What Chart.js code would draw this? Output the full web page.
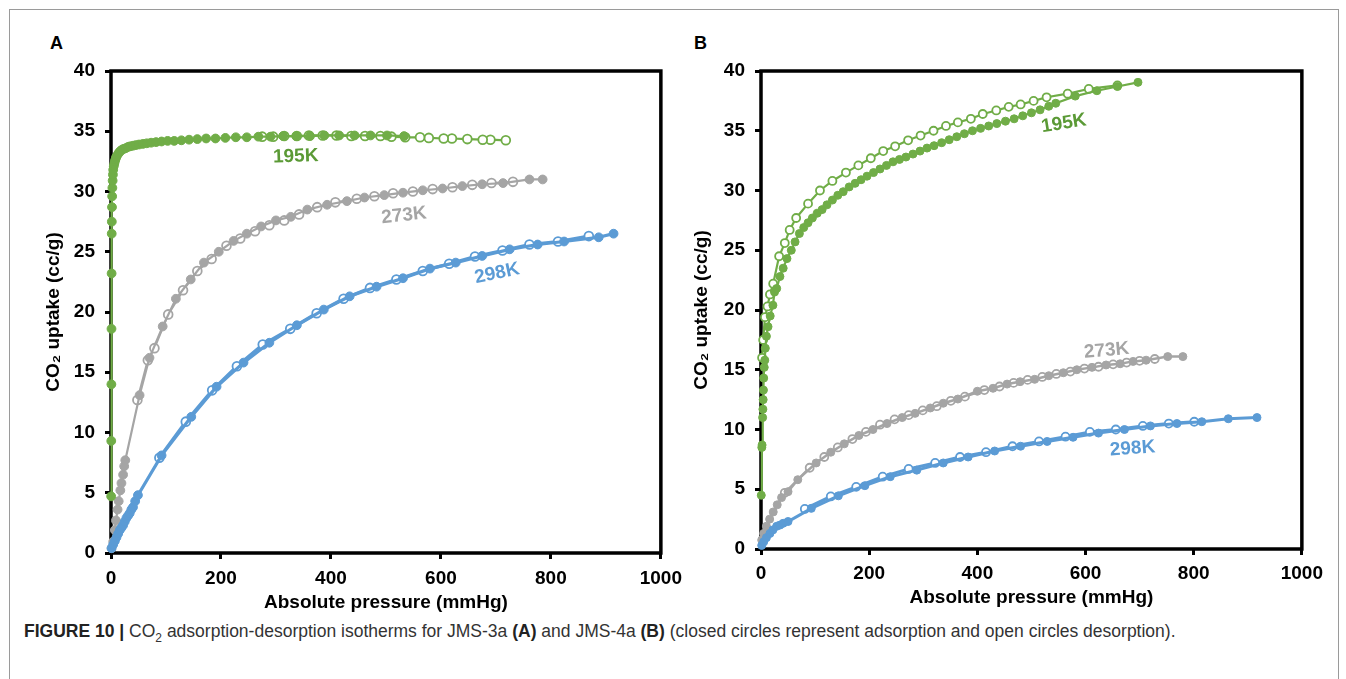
<!DOCTYPE html>
<html>
<head>
<meta charset="utf-8">
<script src="https://cdn.jsdelivr.net/npm/chart.js@4.4.1/dist/chart.umd.min.js"></script>
<style>
  html, body { margin: 0; padding: 0; background: #fff; width: 1346px; height: 679px; overflow: hidden; }
  body { position: relative; font-family: "Liberation Sans", Arial, sans-serif; }
  #frame { position: absolute; left: 9px; top: 9px; width: 1328px; height: 690px; border: 1px solid #9a9a9a; }
  .panel { position: absolute; font-weight: bold; font-size: 18px; color: #000; }
  #wrapA { position: absolute; left: 42px; top: 40px; width: 648px; height: 574px; }
  #wrapB { position: absolute; left: 690px; top: 40px; width: 640px; height: 569px; }
  #caption { position: absolute; left: 24px; top: 621px; font-size: 17.5px; color: #333; white-space: nowrap; }
  #caption b { color: #222; }
</style>
</head>
<body>
<div id="frame"></div>
<div class="panel" style="left:50px; top:33px;">A</div>
<div class="panel" style="left:694px; top:33px;">B</div>
<div id="wrapA"><canvas id="chartA" width="648" height="574"></canvas></div>
<div id="wrapB"><canvas id="chartB" width="640" height="569"></canvas></div>
<div id="caption"><b>FIGURE 10 |</b> CO<sub style="font-size:12px">2</sub> adsorption-desorption isotherms for JMS-3a <b>(A)</b> and JMS-4a <b>(B)</b> (closed circles represent adsorption and open circles desorption).</div>

<script>
// ---------- panel A (JMS-3a) ----------
var a195AdsX = [0.3,0.5,0.7,0.9,1.1,1.3,1.5,1.8,2.1,2.5,3,3.5,4,5,6,7,8,9,10,12,14,16,18,21,24,27,31,35,40,45,51,58,65,73,82,92,103,115,128,142,157,173,190,208,227,247,268,290,313,337,362,388,415,443,472,502,533];
var a195AdsY = [4.7,9.3,14.0,18.6,23.2,26.5,27.5,28.7,29.6,30.3,30.9,31.4,31.8,32.1,32.3,32.5,32.65,32.8,32.9,33.05,33.2,33.3,33.4,33.5,33.55,33.6,33.7,33.75,33.8,33.85,33.9,33.95,34.0,34.05,34.1,34.15,34.2,34.2,34.25,34.3,34.35,34.4,34.4,34.45,34.5,34.5,34.55,34.55,34.6,34.6,34.6,34.65,34.65,34.65,34.65,34.65,34.6];
var a195DesX = [718,690,676,648,620,605,578,562,535,510,490,462,437,410,385,360,338,315,295,275];
var a195DesY = [34.25,34.3,34.3,34.35,34.4,34.4,34.45,34.5,34.5,34.55,34.6,34.6,34.6,34.65,34.65,34.65,34.6,34.6,34.55,34.55];

var a273AdsX = [1,4,7,9,12,14,17,19,22,24,26,52,70,94,118,145,169,196,223,247,273,300,327,357,393,429,461,497,531,567,603,639,675,713,761,785];
var a273AdsY = [0.4,0.94,1.9,2.7,3.6,4.3,5.2,5.8,6.5,7.2,7.7,13.1,16.2,18.8,21.1,22.7,24.1,25.0,25.9,26.5,27.1,27.6,27.9,28.5,28.9,29.2,29.5,29.7,29.9,30.1,30.25,30.45,30.6,30.7,31.0,31.0];
var a273DesX = [731,692,657,621,585,549,513,479,447,408,375,342,315,288,262,235,210,183,157,131,104,79,67,48];
var a273DesY = [30.8,30.7,30.55,30.35,30.2,30.0,29.85,29.6,29.4,29.1,28.7,28.1,27.6,27.2,26.7,26.1,25.5,24.4,23.4,21.8,19.8,17.0,16.0,12.7];

var a298AdsX = [1,4,7,10,13,16,19,22,25,28,31,34,37,40,44,49,92,146,192,241,288,338,387,434,483,531,580,627,675,725,776,824,887,914];
var a298AdsY = [0.4,0.7,1.0,1.3,1.6,1.9,2.1,2.3,2.6,2.9,3.1,3.3,3.6,3.8,4.3,4.8,8.1,11.3,13.8,15.8,17.45,18.9,20.2,21.3,22.1,22.8,23.6,24.1,24.65,25.2,25.6,25.85,26.2,26.5];
var a298DesX = [869,813,761,712,662,615,567,519,471,423,374,326,276,229,184,136,88];
var a298DesY = [26.3,25.85,25.6,25.1,24.6,24.0,23.4,22.7,22.0,21.1,19.9,18.6,17.3,15.5,13.5,10.9,7.9];

// ---------- panel B (JMS-4a) ----------
var b195AdsX = [0.5,1.5,2,3,3.5,4,4.5,5,6,7,8,10,13,17,22,25,29,35,41,48,56,63,71,79,87,95,104,113,122,132,142,152,163,174,185,196,208,220,232,244,256,268,281,294,307,320,334,348,362,376,391,406,421,436,452,468,484,500,516,532,545,581,621,659,697];
var b195AdsY = [4.5,8.5,8.7,11.0,11.7,12.5,13.3,14.3,15.2,15.8,16.8,17.8,18.6,19.5,20.4,21.5,21.8,22.8,23.5,24.3,25.0,25.7,26.4,26.9,27.3,27.7,28.1,28.4,28.8,29.2,29.6,29.9,30.3,30.6,30.9,31.2,31.5,31.8,32.1,32.4,32.6,32.8,33.05,33.3,33.55,33.75,34.0,34.25,34.5,34.75,35.0,35.2,35.4,35.6,35.8,36.0,36.25,36.5,36.75,37.05,37.3,37.9,38.35,38.7,39.05];
var b195DesX = [659,606,567,528,504,480,458,435,410,388,364,342,319,295,272,248,226,203,180,157,132,109,87,65,53,44,33.5,22.5,16.5,12,7.3,4,2];
var b195DesY = [38.8,38.5,38.1,37.8,37.5,37.2,37.0,36.7,36.4,36.0,35.7,35.4,35.0,34.6,34.2,33.7,33.3,32.7,32.1,31.5,30.8,30.0,28.9,27.7,26.7,25.6,24.5,22.2,21.3,20.3,19.4,17.5,16.0];

var b273AdsX = [1.3,5,10,16,22.6,30,38,50,68,102,129,154,181,207,233,261,285,313,337,364,400,429,455,479,506,532,559,584,612,638,664,688,712,752,780];
var b273AdsY = [0.75,1.3,1.9,2.5,3.1,3.7,4.3,4.8,5.8,7.2,8.1,8.8,9.5,10.0,10.5,11.0,11.35,11.8,12.2,12.55,13.2,13.45,13.8,14.0,14.2,14.5,14.75,15.0,15.2,15.4,15.5,15.7,15.8,16.1,16.1];
var b273DesX = [728,700,676,651,624,598,572,546,520,493,467,441,413,377,351,325,299,273,247,220,194,169,142,117,90,44];
var b273DesY = [15.9,15.75,15.6,15.45,15.25,15.1,14.85,14.65,14.4,14.15,13.9,13.6,13.3,12.75,12.4,11.95,11.6,11.2,10.85,10.4,9.8,9.2,8.5,7.7,6.8,4.7];

var b298AdsX = [1.3,5,10,16.5,22,29,35,41,50,93,143,192,239,288,337,383,432,480,529,577,624,672,720,769,815,864,917];
var b298AdsY = [0.3,0.6,0.95,1.3,1.6,1.9,2.0,2.15,2.3,3.4,4.45,5.3,6.05,6.6,7.2,7.7,8.2,8.6,9.0,9.35,9.7,10.0,10.3,10.5,10.65,10.9,11.0];
var b298DesX = [801,754,706,656,608,563,514,465,416,368,322,273,225,176,129,81];
var b298DesY = [10.65,10.5,10.3,10.0,9.8,9.4,9.0,8.6,8.1,7.7,7.2,6.7,6.05,5.2,4.4,3.35];

// axis ticks
var xTicks = [0, 200, 400, 600, 800, 1000];
var yTicks = [0, 5, 10, 15, 20, 25, 30, 35, 40];

// curve labels: text, pressure, uptake, angle
var labelsA = [["195K", 336, 32.9, -2], ["273K", 533, 28.0, -6], ["298K", 702, 23.2, -12]];
var labelsB = [["195K", 560, 35.6, -9], ["273K", 639, 16.6, -5], ["298K", 687, 8.4, -4]];

var GREEN = "#70ad47", GRAY = "#a5a5a5", BLUE = "#5b9bd5";
var GREEN_TXT = "#5b9a36";

function pts(xs, ys) {
    var out = [];
    for (var i = 0; i < xs.length; i++) out.push({ x: xs[i], y: ys[i] });
    return out;
}

function series(xs, ys, color, closed, width, radius, order) {
    return {
        data: pts(xs, ys),
        borderColor: color,
        borderWidth: width,
        backgroundColor: color,
        pointBackgroundColor: closed ? color : "#fff",
        pointBorderColor: color,
        pointBorderWidth: closed ? 1 : 1.8,
        pointRadius: radius,
        tension: 0,
        clip: false,
        order: order,
    };
}

var frameBox = {
    id: "frameBox",
    beforeDatasetsDraw(chart) {
        var a = chart.chartArea, ctx = chart.ctx;
        ctx.save();
        ctx.strokeStyle = "#000";
        ctx.lineWidth = 3.5;
        ctx.strokeRect(a.left, a.top, a.right - a.left, a.bottom - a.top);
        ctx.restore();
    }
};

var curveLabels = {
    id: "curveLabels",
    afterDatasetsDraw(chart, args, opts) {
        var ctx = chart.ctx, xs = chart.scales.x, ys = chart.scales.y;
        ctx.save();
        ctx.font = "bold 19px 'Liberation Sans', Arial, sans-serif";
        ctx.textAlign = "center";
        ctx.textBaseline = "middle";
        opts.items.forEach(function (it, i) {
            ctx.save();
            ctx.translate(xs.getPixelForValue(it[1]), ys.getPixelForValue(it[2]));
            ctx.rotate(it[3] * Math.PI / 180);
            ctx.fillStyle = opts.colors[i];
            ctx.fillText(it[0], 0, 0);
            ctx.restore();
        });
        ctx.restore();
    }
};

function makeChart(id, datasets, labels, geo) {
    var tickFont = { family: "'Liberation Sans', Arial, sans-serif", size: 19, weight: "bold" };
    return new Chart(document.getElementById(id), {
        type: "line",
        data: { datasets: datasets },
        options: {
            responsive: false,
            animation: false,
            layout: { padding: { top: geo.top, right: geo.right, left: 0, bottom: 0 } },
            plugins: {
                legend: { display: false },
                tooltip: { enabled: false },
                curveLabels: { items: labels, colors: [GREEN_TXT, GRAY, BLUE] },
            },
            scales: {
                x: {
                    type: "linear",
                    min: 0, max: 1000,
                    afterBuildTicks: function (s) { s.ticks = xTicks.map(function (v) { return { value: v }; }); },
                    afterFit: function (s) { s.height = geo.xh; },
                    grid: { drawOnChartArea: false, drawTicks: true, tickLength: 6, tickWidth: 3, tickColor: "#000" },
                    border: { display: false },
                    ticks: { color: "#000", font: tickFont, padding: geo.xpad, maxRotation: 0, autoSkip: false,
                             callback: function (v) { return String(v); } },
                    title: { display: true, text: "Absolute pressure (mmHg)", color: "#000", font: tickFont, padding: 0 },
                },
                y: {
                    type: "linear",
                    min: 0, max: 40,
                    afterBuildTicks: function (s) { s.ticks = yTicks.map(function (v) { return { value: v }; }); },
                    afterFit: function (s) { s.width = geo.yw; },
                    grid: { drawOnChartArea: false, drawTicks: true, tickLength: 6, tickWidth: 3, tickColor: "#000" },
                    border: { display: false },
                    ticks: { color: "#000", font: tickFont, padding: 10, autoSkip: false,
                             callback: function (v) { return String(v); } },
                    title: { display: true, text: "CO\u2082 uptake (cc/g)", color: "#000", font: tickFont, padding: 0 },
                },
            },
        },
        plugins: [frameBox, curveLabels],
    });
}

makeChart("chartA", [
    series(a195AdsX, a195AdsY, GREEN, true, 2.2, 4.4, 1),
    series(a195DesX, a195DesY, GREEN, false, 2.2, 4.4, 1),
    series(a298AdsX, a298AdsY, BLUE, true, 3.2, 4.4, 2),
    series(a298DesX, a298DesY, BLUE, false, 3.2, 4.4, 2),
    series(a273AdsX, a273AdsY, GRAY, true, 2.2, 4.4, 3),
    series(a273DesX, a273DesY, GRAY, false, 2.2, 4.4, 3),
], labelsA, { top: 31, right: 22, xh: 61, yw: 69, xpad: 8 });

makeChart("chartB", [
    series(b195AdsX, b195AdsY, GREEN, true, 2.2, 4, 1),
    series(b195DesX, b195DesY, GREEN, false, 2.2, 4, 1),
    series(b298AdsX, b298AdsY, BLUE, true, 3, 4, 2),
    series(b298DesX, b298DesY, BLUE, false, 3, 4, 2),
    series(b273AdsX, b273AdsY, GRAY, true, 2.5, 4, 3),
    series(b273DesX, b273DesY, GRAY, false, 2.5, 4, 3),
], labelsB, { top: 31, right: 23, xh: 60, yw: 71, xpad: 7 });
</script>
</body>
</html>
